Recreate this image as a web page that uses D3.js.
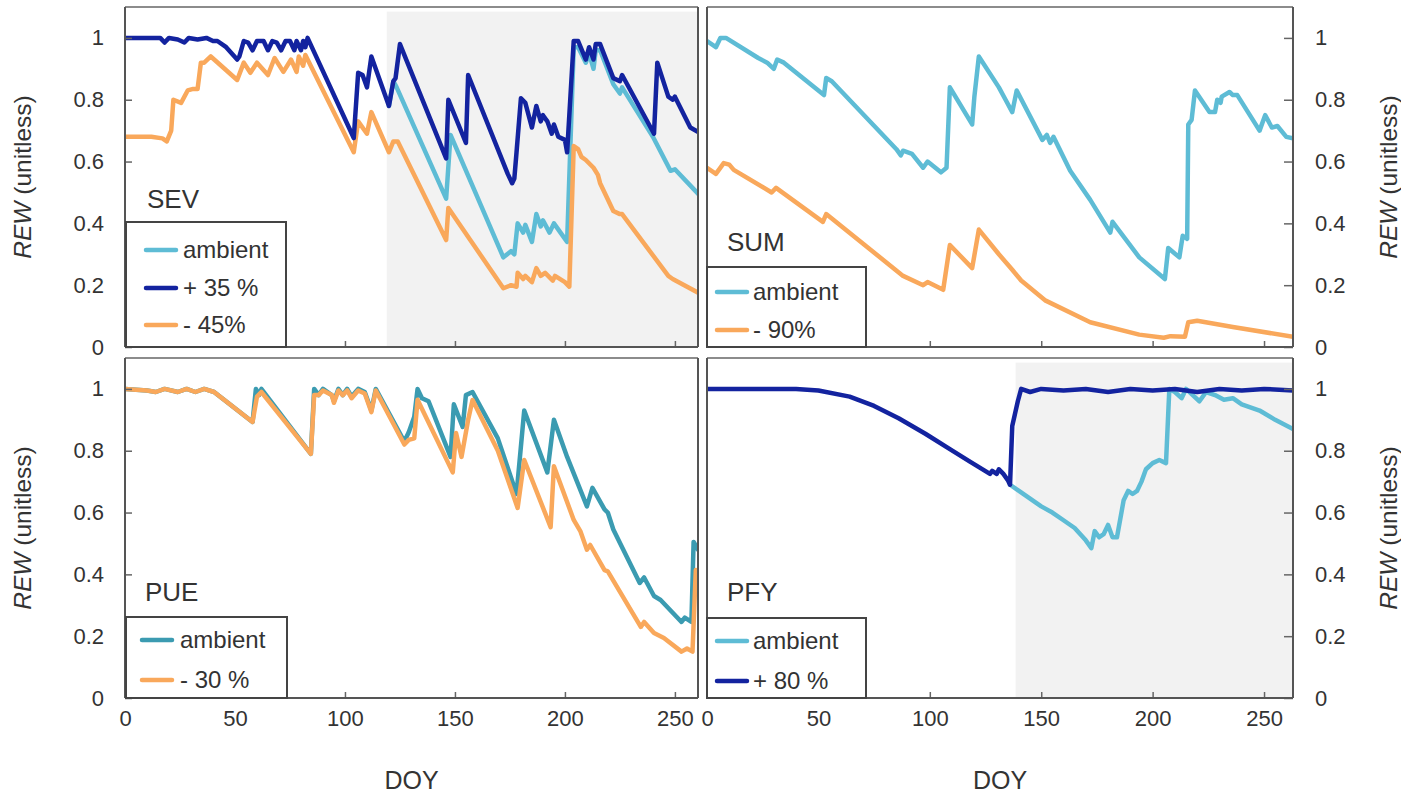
<!DOCTYPE html>
<html>
<head>
<meta charset="utf-8">
<script src="https://cdn.jsdelivr.net/npm/d3@7"></script>
<style>
  body { margin: 0; background: #fff; }
  svg text { font-family: "Liberation Sans", Arial, sans-serif; fill: #333; }
</style>
</head>
<body>
<div id="chart"></div>
<script>
// tick values shared by all panels
var xTicks = [0, 50, 100, 150, 200, 250];
var yTicks = [0, 0.2, 0.4, 0.6, 0.8, 1];
var yTickLabels = ["0", "0.2", "0.4", "0.6", "0.8", "1"];

// SEV  [DOY, REW]
var sevPlus35 = [[0,1.0],[16,1.0],[18,0.985],[20,1.0],[24,0.995],[27,0.985],[29,1.0],[33,0.995],[37,1.0],[40,0.99],[42,0.99],[46,0.97],[51,0.93],[52,0.94],[54,0.99],[56,0.985],[58,0.96],[60,0.99],[63,0.99],[65,0.96],[67,0.99],[69,0.985],[71,0.96],[73,0.99],[75,0.99],[77,0.96],[78,0.99],[80,0.96],[81,0.99],[82,0.97],[83,1.0],[104,0.676],[106,0.887],[108,0.88],[110,0.84],[112,0.94],[120,0.78],[122,0.86],[123,0.87],[125,0.98],[146,0.61],[147,0.80],[155,0.66],[156,0.88],[174,0.56],[176,0.53],[177,0.545],[178,0.63],[180,0.805],[182,0.79],[185,0.71],[187,0.78],[189,0.73],[190,0.75],[192,0.73],[194,0.69],[195,0.72],[197,0.68],[200,0.67],[201,0.63],[204,0.99],[206,0.99],[209.5,0.93],[211,0.97],[213,0.93],[214,0.98],[216,0.98],[222,0.87],[225,0.86],[226,0.88],[240.5,0.69],[242,0.92],[247,0.81],[249,0.80],[250,0.81],[257,0.71],[262,0.69]];
var sevAmbient = [[120,0.78],[122,0.86],[123.5,0.84],[146,0.48],[148,0.686],[172,0.29],[175.5,0.31],[177,0.30],[178.5,0.40],[181,0.37],[182,0.395],[185,0.34],[187,0.43],[189,0.39],[190,0.41],[193,0.37],[195,0.40],[198,0.37],[201,0.34],[204,0.97],[206,0.97],[209.5,0.92],[211,0.95],[213,0.90],[214,0.96],[216,0.96],[222,0.85],[225,0.82],[226,0.84],[240,0.68],[248,0.57],[250,0.575],[262,0.485]];
var sevMinus45 = [[0,0.68],[12,0.68],[17,0.675],[19,0.665],[21,0.70],[22,0.80],[25.5,0.79],[28.5,0.83],[31,0.835],[33,0.835],[34.5,0.92],[36,0.92],[39,0.94],[51,0.864],[54,0.92],[57,0.887],[60,0.92],[65,0.88],[68,0.935],[72,0.89],[75.5,0.93],[78,0.89],[79,0.94],[81,0.91],[82,0.945],[104,0.63],[106,0.73],[110,0.69],[112,0.76],[120,0.63],[122,0.665],[124,0.665],[146,0.346],[147,0.45],[172,0.19],[175.5,0.20],[178,0.195],[178.5,0.24],[181,0.22],[182,0.23],[185,0.21],[187,0.255],[189,0.23],[191,0.24],[194.5,0.215],[195.5,0.23],[200,0.21],[202,0.195],[204,0.65],[206,0.64],[207.5,0.615],[209.5,0.605],[213,0.58],[215,0.557],[216,0.53],[222,0.44],[225,0.43],[226,0.43],[247,0.23],[249,0.22],[262,0.17]];

// SUM
var sumAmbient = [[0,0.99],[4,0.97],[6,1.0],[8.5,1.0],[23,0.935],[27,0.92],[30,0.90],[31.5,0.93],[34.5,0.92],[52.5,0.815],[53.5,0.87],[56,0.86],[85,0.64],[87,0.62],[88,0.635],[92,0.625],[97,0.58],[99,0.60],[105,0.565],[107.5,0.58],[109,0.84],[119,0.72],[120,0.81],[122,0.94],[131,0.84],[134,0.80],[137,0.76],[139,0.83],[150.5,0.67],[152.5,0.686],[154,0.66],[155.5,0.68],[163,0.57],[172,0.476],[181,0.37],[182,0.405],[194,0.29],[205.5,0.22],[207,0.32],[212,0.29],[213.5,0.36],[215.5,0.35],[216,0.72],[217.5,0.735],[219,0.83],[225.5,0.76],[228,0.76],[229,0.80],[230.5,0.79],[231,0.81],[234.5,0.825],[236,0.815],[238,0.815],[248,0.70],[250.5,0.75],[253.5,0.71],[256,0.715],[260,0.68],[263,0.675]];
var sumMinus90 = [[0,0.58],[4,0.56],[7.5,0.595],[10,0.59],[12,0.573],[29,0.50],[31,0.515],[52,0.405],[53.5,0.43],[88,0.23],[97,0.20],[99,0.21],[106,0.185],[109,0.33],[119,0.255],[122,0.38],[131,0.30],[137,0.25],[141,0.215],[152,0.15],[172,0.08],[194,0.04],[205,0.03],[208,0.035],[214.5,0.033],[216,0.08],[220,0.085],[236,0.065],[263,0.033]];

// PUE
var pueAmbient = [[0,1.0],[10,0.995],[14,0.99],[18,1.0],[24,0.99],[28,1.0],[32,0.99],[36,1.0],[40.5,0.99],[58,0.893],[59.5,1.0],[61,0.98],[62,1.0],[84.5,0.79],[86,1.0],[88,0.98],[90,1.0],[94,0.98],[95,0.96],[97,1.0],[99,0.98],[101,1.0],[103,0.975],[106,1.0],[109,0.99],[112,0.93],[114,1.0],[127,0.83],[129,0.86],[131.5,0.91],[133,1.0],[135,0.97],[138,0.96],[148,0.78],[149.5,0.95],[153.5,0.877],[155,0.98],[158,0.99],[169.5,0.84],[178,0.66],[181.5,0.93],[192,0.73],[195,0.90],[201,0.78],[210,0.62],[212.5,0.68],[218,0.61],[219.5,0.60],[222,0.545],[234,0.372],[236,0.39],[240.5,0.33],[243.5,0.317],[253,0.246],[254.5,0.26],[257.5,0.246],[258.5,0.505],[260.5,0.48]];
var pueMinus30 = [[0,1.0],[10,0.995],[14,0.99],[18,1.0],[24,0.99],[28,1.0],[32,0.99],[36,1.0],[40.5,0.99],[58,0.893],[60,0.975],[62,0.99],[84.5,0.79],[86,0.98],[88,0.98],[90,0.995],[94,0.98],[95,0.955],[97,0.995],[99,0.98],[101,0.995],[103,0.97],[106,0.995],[109,0.985],[112,0.925],[114,0.995],[127,0.82],[129,0.835],[131.5,0.84],[133,0.965],[149,0.73],[150.5,0.857],[153,0.78],[156,0.90],[158,0.964],[169.5,0.80],[178.5,0.615],[181.5,0.77],[193.5,0.553],[195,0.75],[204,0.576],[207,0.54],[210,0.48],[211.5,0.495],[218,0.414],[219.5,0.41],[234.5,0.23],[236,0.246],[240.5,0.21],[245,0.194],[253,0.15],[255.5,0.16],[258,0.15],[259.5,0.414],[261,0.39]];

// PFY
var pfyPlus80 = [[0,1.0],[40,1.0],[50,0.995],[64,0.975],[75,0.945],[86,0.905],[98,0.855],[109,0.805],[118,0.765],[127,0.725],[128,0.735],[130,0.725],[131,0.74],[133,0.725],[135,0.705],[136,0.69],[137,0.88],[139.5,0.96],[141,1.0],[145,0.99],[150,1.0],[160,0.995],[170,1.0],[180,0.99],[190,1.0],[200,0.995],[210,1.0],[220,0.99],[230,1.0],[240,0.995],[250,1.0],[263,0.995]];
var pfyAmbient = [[136,0.69],[140,0.67],[145,0.645],[150,0.62],[155,0.60],[160,0.575],[165,0.55],[170,0.51],[172.5,0.485],[174,0.54],[176,0.52],[178,0.53],[180,0.56],[182,0.52],[184,0.52],[187,0.64],[189,0.67],[191,0.66],[193,0.67],[195,0.70],[197,0.74],[200,0.76],[203,0.77],[206,0.76],[207.5,1.0],[210,0.99],[213,0.97],[215,1.0],[218,0.98],[221,0.96],[224,0.99],[228,0.98],[232,0.965],[236,0.97],[240,0.95],[248,0.93],[255,0.90],[263,0.87]];

var cyan = "#5EBCD5", navy = "#13239F", orange = "#F9A85B", teal = "#3B9BB1";

var svg = d3.select("#chart").append("svg")
    .attr("width", 1401)
    .attr("height", 797);

var panels = [
  { name: "SEV", left: 125, right: 698, top: 7, bottom: 347, xMax: 260.5, side: "left", xLabels: false,
    shadeFrom: 119, nameX: 147, nameY: 208,
    lines: [[sevAmbient, cyan], [sevMinus45, orange], [sevPlus35, navy]],
    legend: [["ambient", cyan], ["+ 35 %", navy], ["- 45%", orange]],
    box: { x: 126, y: 222, w: 160, rows: [250, 288, 325], lx: 146, tx: 183 } },
  { name: "SUM", left: 707, right: 1293, top: 7, bottom: 347, xMax: 263, side: "right", xLabels: false,
    shadeFrom: null, nameX: 727, nameY: 251,
    lines: [[sumAmbient, cyan], [sumMinus90, orange]],
    legend: [["ambient", cyan], ["- 90%", orange]],
    box: { x: 707, y: 267, w: 159, rows: [292, 330], lx: 717, tx: 753 } },
  { name: "PUE", left: 125, right: 698, top: 358, bottom: 698, xMax: 260.5, side: "left", xLabels: true,
    shadeFrom: null, nameX: 145, nameY: 601,
    lines: [[pueAmbient, teal], [pueMinus30, orange]],
    legend: [["ambient", teal], ["- 30 %", orange]],
    box: { x: 126, y: 617, w: 161, rows: [640, 680], lx: 142, tx: 180 } },
  { name: "PFY", left: 707, right: 1293, top: 358, bottom: 698, xMax: 263, side: "right", xLabels: true,
    shadeFrom: 138.5, nameX: 727, nameY: 601,
    lines: [[pfyAmbient, cyan], [pfyPlus80, navy]],
    legend: [["ambient", cyan], ["+ 80 %", navy]],
    box: { x: 707, y: 618, w: 159, rows: [641, 681], lx: 717, tx: 753 } }
];

panels.forEach(function(p, i) {
  var x = d3.scaleLinear().domain([0, p.xMax]).range([p.left, p.right]);
  var y = d3.scaleLinear().domain([0, 1.1]).range([p.bottom, p.top]);
  var g = svg.append("g");

  g.append("clipPath").attr("id", "clip" + i)
    .append("rect")
      .attr("x", p.left).attr("y", p.top)
      .attr("width", p.right - p.left).attr("height", p.bottom - p.top);

  // treatment period shading
  if (p.shadeFrom !== null) {
    g.append("rect")
      .attr("x", x(p.shadeFrom))
      .attr("y", y(1.085))
      .attr("width", p.right - x(p.shadeFrom))
      .attr("height", y(0) - y(1.085))
      .attr("fill", "#f2f2f2");
  }

  var line = d3.line().x(d => x(d[0])).y(d => y(d[1]));
  g.append("g").attr("clip-path", "url(#clip" + i + ")")
    .selectAll("path")
    .data(p.lines)
    .join("path")
      .attr("d", d => line(d[0]))
      .attr("fill", "none")
      .attr("stroke", d => d[1])
      .attr("stroke-width", 4.5)
      .attr("stroke-linejoin", "round")
      .attr("stroke-linecap", "round");

  // x axis, ticks point inward
  var xa = g.append("g")
    .attr("transform", `translate(0,${p.bottom})`)
    .call(d3.axisBottom(x).tickValues(xTicks).tickSize(-6).tickPadding(12)
      .tickFormat(p.xLabels ? d3.format("d") : ""));
  xa.select(".domain").remove();
  xa.selectAll("line").attr("stroke", "#666").attr("stroke-width", 1.5);
  xa.selectAll("text").style("font-size", "22px").attr("fill", "#333");

  // y axis
  var ya;
  if (p.side === "left") {
    ya = g.append("g").attr("transform", `translate(${p.left},0)`)
      .call(d3.axisLeft(y).tickValues(yTicks).tickSize(-7).tickPadding(21)
        .tickFormat((d, k) => yTickLabels[k]));
  } else {
    ya = g.append("g").attr("transform", `translate(${p.right},0)`)
      .call(d3.axisRight(y).tickValues(yTicks).tickSize(-9).tickPadding(22)
        .tickFormat((d, k) => yTickLabels[k]));
  }
  ya.select(".domain").remove();
  ya.selectAll("line").attr("stroke", "#666").attr("stroke-width", 1.5);
  ya.selectAll("text").style("font-size", "22px").attr("fill", "#333");

  // frame
  g.append("line").attr("x1", p.left).attr("x2", p.right).attr("y1", p.top).attr("y2", p.top)
    .attr("stroke", "#8c8c8c").attr("stroke-width", 2);
  g.append("line").attr("x1", p.left).attr("x2", p.left).attr("y1", p.top).attr("y2", p.bottom)
    .attr("stroke", "#555").attr("stroke-width", 2);
  g.append("line").attr("x1", p.right).attr("x2", p.right).attr("y1", p.top).attr("y2", p.bottom)
    .attr("stroke", "#555").attr("stroke-width", 2);
  g.append("line").attr("x1", p.left).attr("x2", p.right).attr("y1", p.bottom).attr("y2", p.bottom)
    .attr("stroke", "#555").attr("stroke-width", 2);

  // site label
  g.append("text")
    .attr("x", p.nameX).attr("y", p.nameY)
    .style("font-size", "26px")
    .text(p.name);

  // legend
  var b = p.box;
  g.append("rect")
    .attr("x", b.x).attr("y", b.y)
    .attr("width", b.w).attr("height", p.bottom - b.y)
    .attr("fill", "#fff").attr("stroke", "#444").attr("stroke-width", 2);
  p.legend.forEach(function(e, k) {
    g.append("line")
      .attr("x1", b.lx).attr("x2", b.lx + 30)
      .attr("y1", b.rows[k]).attr("y2", b.rows[k])
      .attr("stroke", e[1]).attr("stroke-width", 4.5).attr("stroke-linecap", "round");
    g.append("text")
      .attr("x", b.tx).attr("y", b.rows[k]).attr("dy", "0.35em")
      .style("font-size", "24px")
      .text(e[0]);
  });

  // axis title
  var tx = p.side === "left" ? 22 : 1388;
  var t = g.append("text")
    .attr("transform", `translate(${tx},${(p.top + p.bottom) / 2}) rotate(-90)`)
    .attr("text-anchor", "middle")
    .attr("dy", "0.35em")
    .style("font-size", "24.5px");
  t.append("tspan").style("font-style", "italic").text("REW");
  t.append("tspan").text(" (unitless)");

  if (p.xLabels) {
    g.append("text")
      .attr("x", (p.left + p.right) / 2).attr("y", 789)
      .attr("text-anchor", "middle")
      .style("font-size", "25px")
      .text("DOY");
  }
});
</script>
</body>
</html>
